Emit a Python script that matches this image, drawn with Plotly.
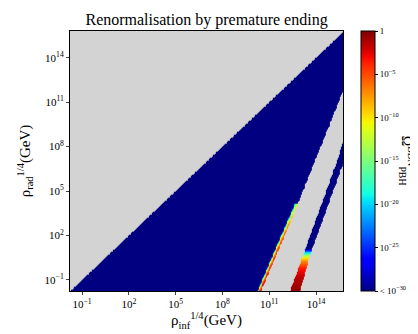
import numpy as np
import plotly.graph_objects as go

# ---- data (log10 units, GeV) ----
x_range_log = [-1.77, 15.73]
y_range_log = [-1.75, 15.8]

# right edge of the large allowed (navy) region, x as function of y
boundary_y = [-1.77, 3.84, 7.22, 11.75, 15.8]
boundary_x = [10.47, 12.72, 14.0, 15.73, 17.3]

# narrow second band
band_y = [-1.77, 0.665, 7.22, 15.8]
band_left = [12.33, 13.17, 15.41, 17.9]
band_right = [12.97, 13.61, 15.86, 18.4]

# log10 Omega inside the band, as function of y
band_col_y = [-1.77, -0.89, -0.21, 0.26, 0.53, 0.74, 0.94, 1.15]
band_col_val = [-0.5, -1.5, -3.5, -7.0, -11.0, -17.0, -24.0, -31.0]

# coloured strip on the edge of the large region
strip_offset = [0.0, 0.06, 0.12, 0.18, 0.24]
strip_val = [-1.5, -3.0, -6.0, -11.0, -24.0]
strip_shift_y = [-1.77, 2.0, 4.2]
strip_shift = [0.0, -3.0, -10.0]
strip_top = 4.2

cbar_vals = [0, -5, -10, -15, -20, -25, -30]
cbar_text = ["1", "10<sup>−5</sup>", "10<sup>−10</sup>", "10<sup>−15</sup>",
             "10<sup>−20</sup>", "10<sup>−25</sup>", "< 10<sup>−30</sup>"]
axis_tick_exp = [-1, 2, 5, 8, 11, 14]

# ---- grid ----
step = 0.05
xs = np.arange(x_range_log[0] - step, x_range_log[1] + step, step)
ys = np.arange(y_range_log[0] - step, y_range_log[1] + step, step)
X, Y = np.meshgrid(xs, ys)

xb = np.interp(Y, boundary_y, boundary_x)
bl = np.interp(Y, band_y, band_left)
br = np.interp(Y, band_y, band_right)

Z = np.full(X.shape, np.nan)
below = Y <= X
big = below & (X <= xb)
Z[big] = -30.0
# strip
off = xb - X
strip = big & (off <= strip_offset[-1]) & (Y <= strip_top)
sv = np.interp(off, strip_offset, strip_val) + np.interp(Y, strip_shift_y, strip_shift)
Z[strip] = np.maximum(sv[strip], -30.0)
# band
band = below & (X >= bl) & (X <= br)
bv = np.interp(Y, band_col_y, band_col_val)
Z[band] = np.maximum(bv[band], -30.0)

# jet colormap
def jet(f):
    r = np.interp(f, [0, 0.35, 0.66, 0.89, 1], [0, 0, 1, 1, 0.5])
    g = np.interp(f, [0, 0.125, 0.375, 0.64, 0.91, 1], [0, 0, 1, 1, 0, 0])
    b = np.interp(f, [0, 0.11, 0.34, 0.65, 1], [0.5, 1, 1, 0, 0])
    return "rgb(%d,%d,%d)" % (round(r * 255), round(g * 255), round(b * 255))

cs = [[float(f), jet(f)] for f in np.linspace(0, 1, 41)]

FONT = "Liberation Serif"

fig = go.Figure()
fig.add_trace(go.Heatmap(
    x=10 ** xs, y=10 ** ys, z=Z,
    colorscale=cs, zmin=-30, zmax=0, zsmooth="fast",
    hoverongaps=False,
    colorbar=dict(
        x=1.066, xanchor="left", xref="paper", xpad=0, ypad=0,
        y=0.5, yanchor="middle", len=1.0, lenmode="fraction",
        thickness=14, outlinecolor="black", outlinewidth=1,
        tickvals=cbar_vals, ticktext=cbar_text,
        ticks="outside", ticklen=3, tickcolor="black",
        tickfont=dict(family=FONT, size=9, color="black"),
    ),
))

tickvals = [10.0 ** e for e in axis_tick_exp]
ticktext = ["10<sup>%s</sup>" % (str(e).replace("-", "−")) for e in axis_tick_exp]

fig.update_layout(
    width=418, height=334,
    margin=dict(l=62, r=83, t=23, b=51, autoexpand=False),
    paper_bgcolor="white", plot_bgcolor="#d3d3d3",
    font=dict(family=FONT, color="black"),
    title=dict(text="Renormalisation by premature ending", x=0.475, xanchor="center",
               y=0.967, yanchor="middle", font=dict(size=16)),
    xaxis=dict(type="log", range=x_range_log, tickvals=tickvals, ticktext=ticktext,
               ticks="outside", ticklen=3, showgrid=False, zeroline=False,
               showline=True, linecolor="black", mirror=True,
               tickfont=dict(size=11),
               title=dict(text="ρ<sub>inf</sub><sup>1/4</sup>(GeV)", font=dict(size=15), standoff=2)),
    yaxis=dict(type="log", range=y_range_log, tickvals=tickvals, ticktext=ticktext,
               ticks="outside", ticklen=3, showgrid=False, zeroline=False,
               showline=True, linecolor="black", mirror=True,
               tickfont=dict(size=11),
               title=dict(text="ρ<sub>rad</sub><sup>1/4</sup>(GeV)", font=dict(size=15), standoff=10)),
    annotations=[dict(text="Ω<sup>BBN</sup><sub>PBH</sub>", textangle=90,
                      xref="paper", yref="paper", x=1.235, y=0.5,
                      xanchor="center", yanchor="middle", showarrow=False,
                      font=dict(size=14))],
)

fig.write_html("out.html")
